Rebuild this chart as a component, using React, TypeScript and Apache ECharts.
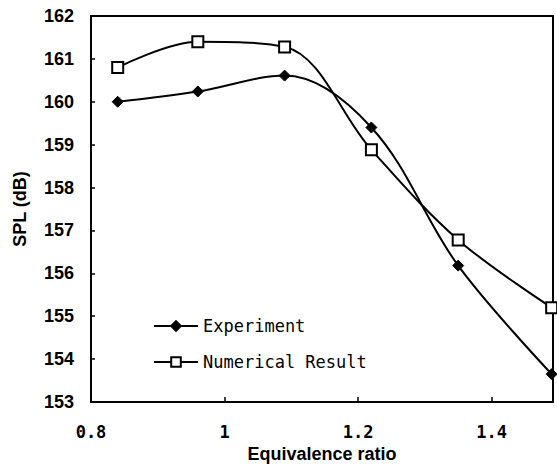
import React, { useEffect, useRef } from "react";
import * as echarts from "echarts";

// Equivalence ratio at each measured / computed point
const ratios = [0.84, 0.96, 1.09, 1.22, 1.35, 1.49];
// Sound pressure level, dB
const experiment = [160.0, 160.24, 160.61, 159.4, 156.18, 153.65];
const numerical = [160.8, 161.4, 161.28, 158.88, 156.78, 155.2];

const seriesNames = ["Experiment", "Numerical Result"];

const X_MIN = 0.8;
const X_MAX = 1.492;
const Y_MIN = 153;
const Y_MAX = 162;

export default function App() {
  const ref = useRef<HTMLDivElement>(null);

  useEffect(() => {
    if (!ref.current) return;
    const chart = echarts.init(ref.current, null, { renderer: "svg" });

    const pair = (ys: number[]) => ratios.map((x, i) => [x, ys[i]]);

    chart.setOption({
      animation: false,
      backgroundColor: "#ffffff",
      grid: {
        left: 91,
        top: 16,
        right: 4,
        bottom: 64,
        show: true,
        borderColor: "#000",
        borderWidth: 2,
        backgroundColor: "transparent",
      },
      legend: {
        orient: "vertical",
        left: 153,
        top: 317,
        padding: 0,
        itemWidth: 44,
        itemHeight: 12,
        itemGap: 18,
        textStyle: {
          fontFamily: "DejaVu Sans Mono",
          fontSize: 17,
          color: "#000",
          lineHeight: 18,
        },
        data: seriesNames,
      },
      xAxis: {
        type: "value",
        min: X_MIN,
        max: X_MAX,
        interval: 0.2,
        name: "Equivalence ratio",
        nameLocation: "middle",
        nameGap: 43,
        nameTextStyle: {
          fontFamily: "Liberation Sans",
          fontWeight: "bold",
          fontSize: 18,
          color: "#000",
        },
        axisLine: { lineStyle: { color: "#000", width: 2 } },
        axisTick: { inside: true, length: 5, lineStyle: { color: "#000", width: 1.5 } },
        splitLine: { show: false },
        axisLabel: {
          showMaxLabel: false,
          margin: 21,
          fontFamily: "DejaVu Sans Mono",
          fontWeight: "bold",
          fontSize: 17,
          color: "#000",
          formatter: (v: number) => String(Number(v.toFixed(1))),
        },
      },
      yAxis: {
        type: "value",
        min: Y_MIN,
        max: Y_MAX,
        interval: 1,
        name: "SPL (dB)",
        nameLocation: "middle",
        nameGap: 62,
        nameTextStyle: {
          fontFamily: "Liberation Sans",
          fontWeight: "bold",
          fontSize: 18,
          color: "#000",
        },
        axisLine: { lineStyle: { color: "#000", width: 2 } },
        axisTick: { inside: true, length: 4, lineStyle: { color: "#000", width: 1.5 } },
        splitLine: { show: false },
        axisLabel: {
          margin: 17,
          fontFamily: "Liberation Sans",
          fontWeight: "bold",
          fontSize: 18,
          color: "#000",
        },
      },
      series: [
        {
          name: seriesNames[0],
          type: "line",
          data: pair(experiment),
          smooth: 0.35,
          clip: false,
          symbol: "diamond",
          symbolSize: 11,
          itemStyle: { color: "#000", borderColor: "#000", borderWidth: 1 },
          lineStyle: { color: "#000", width: 2 },
          z: 3,
        },
        {
          name: seriesNames[1],
          type: "line",
          data: pair(numerical),
          smooth: 0.35,
          clip: false,
          symbol: "rect",
          symbolSize: 11,
          itemStyle: { color: "#fff", borderColor: "#000", borderWidth: 2 },
          lineStyle: { color: "#000", width: 2 },
          z: 4,
        },
      ],
    });

    return () => chart.dispose();
  }, []);

  return (
    <div
      ref={ref}
      style={{ position: "fixed", left: 0, top: 0, width: 557, height: 468, background: "#fff" }}
    />
  );
}
